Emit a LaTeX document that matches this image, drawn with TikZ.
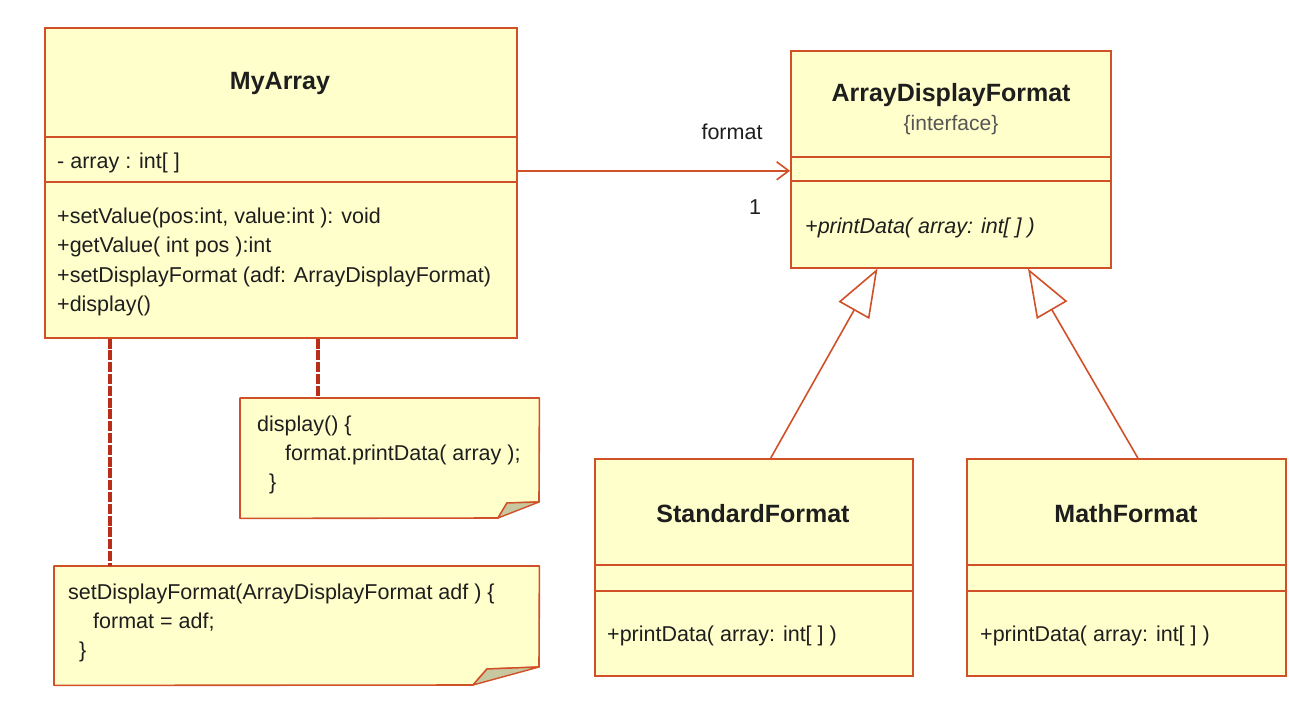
\documentclass[tikz,border=0pt]{standalone}
\usepackage{fontspec}
\setmainfont{Liberation Sans}
\usetikzlibrary{arrows.meta,calc}
\definecolor{umlred}{RGB}{208,80,40}
\definecolor{umlfill}{RGB}{255,255,204}
\definecolor{dashred}{RGB}{185,45,25}
\definecolor{foldfill}{RGB}{200,200,160}
\definecolor{txtcol}{RGB}{30,30,30}
\definecolor{stereo}{RGB}{85,85,85}
\begin{document}
\begin{tikzpicture}[x=1pt,y=-1pt,
  classbox/.style={draw=umlred, fill=umlfill, line width=1.6pt, inner sep=0pt, anchor=north west},
  sepline/.style={draw=umlred, line width=1.6pt},
  notebg/.style={draw=umlred, fill=umlfill, line width=1.6pt, line join=round},
  foldtri/.style={draw=umlred, fill=foldfill, line width=1.4pt, line join=round},
  noteframe/.style={inner sep=0pt, anchor=north west},
  title/.style={font=\fontsize{25}{30}\selectfont\bfseries, text=txtcol, anchor=base, inner sep=0pt},
  txt/.style={font=\fontsize{21.5}{29}\selectfont, text=txtcol, anchor=base west, inner sep=0pt},
  stereotxt/.style={font=\fontsize{21}{29}\selectfont, text=stereo, anchor=base, inner sep=0pt},
  lbl/.style={font=\fontsize{21.5}{29}\selectfont, text=txtcol, anchor=base, inner sep=0pt},
  assoc/.style={draw=umlred, line width=1.6pt, -{Straight Barb[length=12pt,width=18pt,line width=1.6pt]}},
  gen/.style={draw=umlred, line width=1.6pt, -{Triangle[open, length=48pt, width=35pt, line width=1.6pt, fill=white]}},
  anchorline/.style={draw=dashred, line width=3.2pt, dash pattern=on 10pt off 1.8pt}
]
\useasboundingbox[fill=white] (0,0) rectangle (1289,721);

% ---------------- MyArray ----------------
\node[classbox, minimum width=472, minimum height=310] (myarray) at (44,27) {};
\draw[sepline] (44,137) -- (516,137);
\draw[sepline] (44,182) -- (516,182);
\node[title] (myarrayname) at (280,89) {MyArray};
\node[txt] (myarrayattr) at (57,168) {- array : int[ ]};
\node[txt] (m1) at (57,223) {+setValue(pos:int, value:int ): void};
\node[txt] (m2) at (57,252) {+getValue( int pos ):int};
\node[txt] (m3) at (57,282) {+setDisplayFormat (adf: ArrayDisplayFormat)};
\node[txt] (m4) at (57,311) {+display()};

% ---------------- ArrayDisplayFormat ----------------
\node[classbox, minimum width=320, minimum height=217] (adf) at (790,50) {};
\draw[sepline] (790,157) -- (1110,157);
\draw[sepline] (790,181) -- (1110,181);
\node[title] (adfname) at (951,101) {ArrayDisplayFormat};
\node[stereotxt] (adfstereo) at (951,130) {\{interface\}};
\node[txt] (adfop) at (805,233) {\itshape +printData( array: int[ ] )};

% ---------------- StandardFormat ----------------
\node[classbox, minimum width=318, minimum height=217] (std) at (594,458) {};
\draw[sepline] (594,565) -- (912,565);
\draw[sepline] (594,591) -- (912,591);
\node[title] (stdname) at (753,522) {StandardFormat};
\node[txt] (stdop) at (607,641) {+printData( array: int[ ] )};

% ---------------- MathFormat ----------------
\node[classbox, minimum width=319, minimum height=217] (math) at (966,458) {};
\draw[sepline] (966,565) -- (1285,565);
\draw[sepline] (966,591) -- (1285,591);
\node[title] (mathname) at (1126,522) {MathFormat};
\node[txt] (mathop) at (980,641) {+printData( array: int[ ] )};

% ---------------- Notes ----------------
\node[noteframe, minimum width=299, minimum height=120] (note1) at (240,398) {};
\draw[notebg] (note1.north west) -- (note1.north east) -- (539,502) -- (507,503) -- (498,518) -- (note1.south west) -- cycle;
\draw[foldtri] (498,518) -- (507,503) -- (539,502) -- cycle;
\node[txt] (n1a) at (257,431) {display() \{};
\node[txt] (n1b) at (285,460) {format.printData( array );};
\node[txt] (n1c) at (269,489) {\}};

\node[noteframe, minimum width=485, minimum height=119] (note2) at (54,566) {};
\draw[notebg] (note2.north west) -- (note2.north east) -- (539,667) -- (487,669) -- (473,685) -- (note2.south west) -- cycle;
\draw[foldtri] (473,685) -- (487,669) -- (539,667) -- cycle;
\node[txt] (n2a) at (68,599) {setDisplayFormat(ArrayDisplayFormat adf ) \{};
\node[txt] (n2b) at (93,628) {format = adf;};
\node[txt] (n2c) at (79,657) {\}};

% ---------------- Connectors ----------------
\draw[assoc] ([yshift=12pt]myarray.east) -- ([yshift=12pt]myarray.east -| adf.west);
\node[lbl] (fmtlabel) at (732,139) {format};
\node[lbl] (multlabel) at (755,214) {1};

\draw[gen] ($(std.north west)!0.553!(std.north east)$) -- ($(adf.south west)!0.272!(adf.south east)$);
\draw[gen] ($(math.north west)!0.536!(math.north east)$) -- ($(adf.south west)!0.74!(adf.south east)$);

\draw[anchorline] (myarray.south -| 110,0) -- (note2.north -| 110,0);
\draw[anchorline] (myarray.south -| 318,0) -- (note1.north -| 318,0);
\end{tikzpicture}
\end{document}
